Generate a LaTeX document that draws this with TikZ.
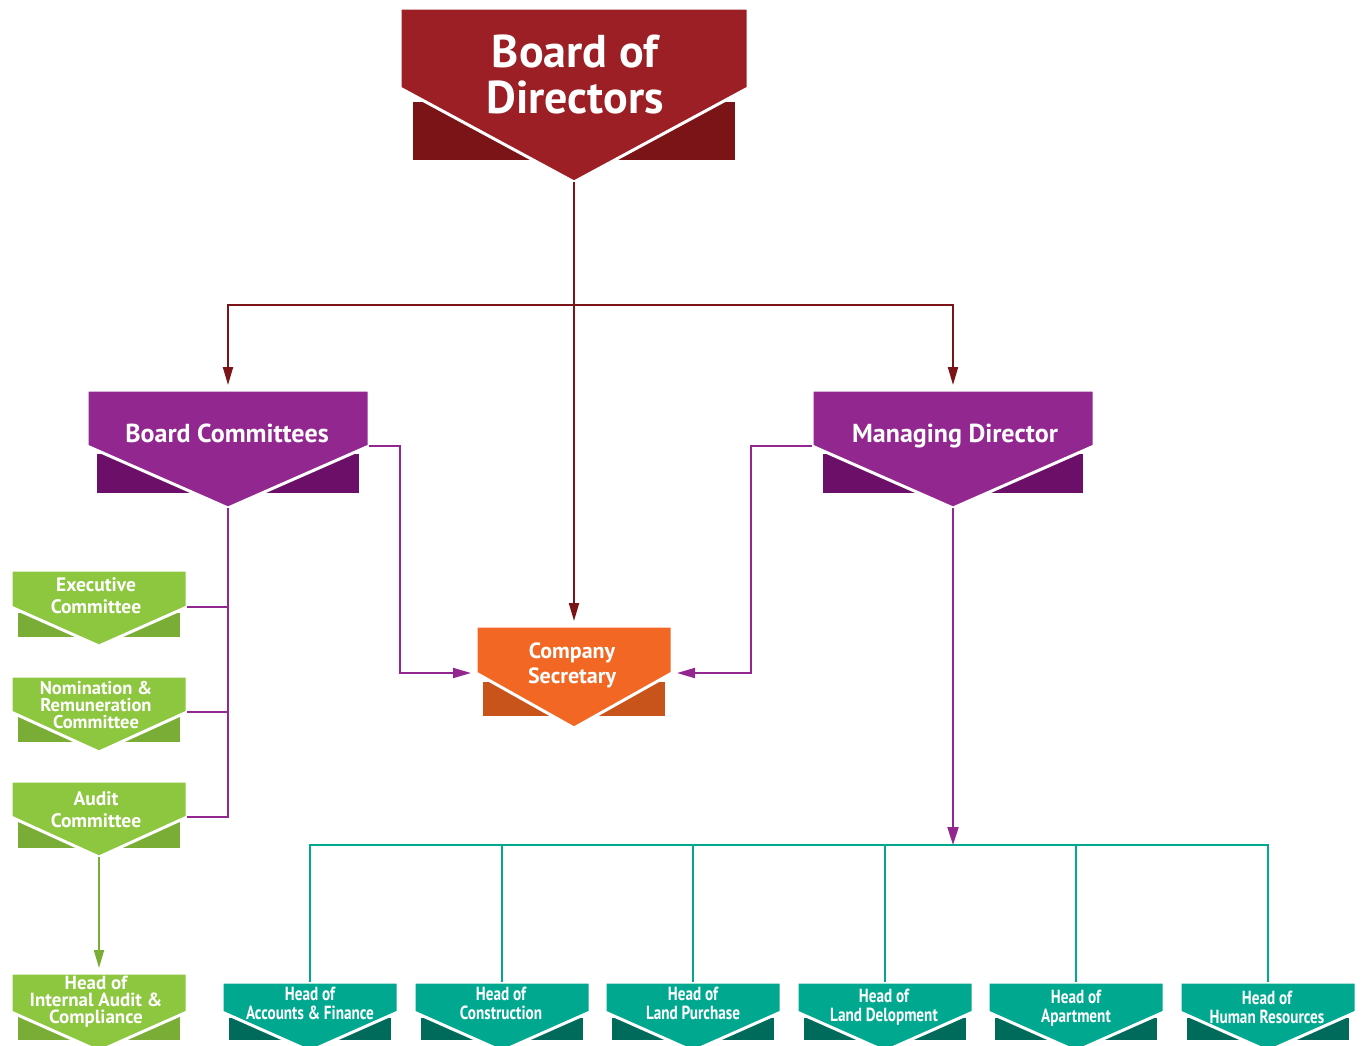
\documentclass[tikz,border=0pt]{standalone}
\usepackage{fontspec}
\setmainfont{PT Sans}
\newfontfamily\condfont[FakeStretch=0.8]{PT Sans}
\usetikzlibrary{arrows.meta}
\definecolor{redL}{HTML}{9B1F24}
\definecolor{redD}{HTML}{7B1416}
\definecolor{purL}{HTML}{92278F}
\definecolor{purD}{HTML}{6C0F68}
\definecolor{oraL}{HTML}{F26724}
\definecolor{oraD}{HTML}{C9541B}
\definecolor{grnL}{HTML}{8DC63F}
\definecolor{grnD}{HTML}{7AAD36}
\definecolor{teaL}{HTML}{00A88F}
\definecolor{teaD}{HTML}{006B5A}
\newcommand{\chev}[9]{%
  \fill[\cdark] ({#1+#6},#7) rectangle ({#2-#6},#8);
  \filldraw[fill=\clight, draw=white, line width=3pt, line join=miter] (#1,#3) -- (#2,#3) -- (#2,#4) -- ({(#1+#2)/2},#5) -- (#1,#4) -- cycle;
  \coordinate (#9-tip) at ({(#1+#2)/2},#5);
  \coordinate (#9-l) at (#1,#4);
  \coordinate (#9-r) at (#2,#4);
  \coordinate (#9-top) at ({(#1+#2)/2},#3);
}
\tikzset{
  lbl/.style={text=white, align=center, inner sep=0pt},
  tlbl/.style={lbl, font=\condfont\bfseries\fontsize{19}{19}\selectfont},
  arr/.style={-{Triangle[length=18pt,width=10pt]}, shorten >=5pt},
  redline/.style={draw=redD, line width=2pt},
  purline/.style={draw=purL, line width=2pt},
  tealine/.style={draw=teaL, line width=2pt},
  grnline/.style={draw=grnD, line width=2pt},
}
\begin{document}
\begin{tikzpicture}[x=1pt,y=-1pt]
\useasboundingbox (0,0) rectangle (1364,1045);
\clip (0,0) rectangle (1364,1045);
% Board of Directors
\def\clight{redL}\def\cdark{redD}
\chev{400}{748}{8}{88}{182}{13}{102}{160}{bodx}
\node[lbl, font=\fontsize{46}{46}\selectfont\bfseries] (bod) at (575,74) {Board of\\Directors};
% Board Committees
\def\clight{purL}\def\cdark{purD}
\chev{87}{369}{390}{446}{508}{10}{454}{493}{bcx}
\node[lbl, anchor=base, font=\fontsize{26}{30}\selectfont\bfseries] (bc) at (227,442) {Board Committees};
% Managing Director
\chev{812}{1094}{390}{446}{508}{11}{454}{493}{mdx}
\node[lbl, anchor=base, font=\fontsize{26}{30}\selectfont\bfseries] (md) at (955,442) {Managing Director};
% Company Secretary
\def\clight{oraL}\def\cdark{oraD}
\chev{476}{672}{626}{673}{728}{7}{682}{716}{csx}
\node[lbl, font=\fontsize{22}{25}\selectfont\bfseries] (cs) at (572,665) {Company\\Secretary};
% Green committees
\def\clight{grnL}\def\cdark{grnD}
\chev{11}{187}{570}{607}{646}{7}{613}{637}{exx}
\node[lbl, font=\fontsize{19.5}{22}\selectfont\bfseries] (ex) at (96,596) {Executive\\Committee};
\chev{11}{187}{676}{712}{752}{7}{717}{742}{nrx}
\node[lbl, font=\fontsize{18.5}{17}\selectfont\bfseries] (nr) at (96,705) {Nomination \&\\Remuneration\\Committee};
\chev{11}{187}{781}{817}{857}{7}{822}{848}{aux}
\node[lbl, font=\fontsize{19.5}{22}\selectfont\bfseries] (au) at (96,810) {Audit\\Committee};
\chev{11}{187}{973}{1012}{1051}{7}{1016}{1040}{iax}
\node[lbl, font=\fontsize{19}{17}\selectfont\bfseries] (ia) at (96,1002) {Head of\\Internal Audit \&\\Compliance};
% Teal heads
\def\clight{teaL}\def\cdark{teaD}
\chev{222}{398}{982}{1012}{1051}{7}{1018}{1040}{afx}
\node[tlbl] (af) at (310,1003) {Head of\\Accounts \& Finance};
\chev{414}{590}{982}{1012}{1051}{7}{1018}{1040}{cox}
\node[tlbl] (co) at (501,1003) {Head of\\Construction};
\chev{605}{781}{982}{1012}{1051}{7}{1018}{1040}{lpx}
\node[tlbl] (lp) at (693,1003) {Head of\\Land Purchase};
\chev{797}{973}{982}{1012}{1051}{7}{1018}{1040}{ldx}
\node[tlbl] (ld) at (884,1007) {Head of\\Land Delopment};
\chev{988}{1164}{982}{1012}{1051}{7}{1018}{1040}{apx}
\node[tlbl] (ap) at (1076,1008) {Head of\\Apartment};
\chev{1180}{1356}{982}{1012}{1051}{7}{1018}{1040}{hrx}
\node[tlbl] (hr) at (1267,1007) {Head of\\Human Resources};
% connectors
\coordinate (redbus) at (574,305);
\coordinate (tbus) at (953,845);
\draw[redline, arr] (bodx-tip) -- (csx-top);
\draw[redline, arr] (redbus) -| (bcx-top);
\draw[redline, arr] (redbus) -| (mdx-top);
\draw[purline, arr] (bcx-r) -- ++(31,0) |- (csx-l);
\draw[purline, arr] (mdx-l) -- ++(-61,0) |- (csx-r);
\draw[purline] (bcx-tip) |- (aux-r);
\draw[purline] (exx-r) -- (exx-r -| bcx-tip);
\draw[purline] (nrx-r) -- (nrx-r -| bcx-tip);
\draw[tealine] (afx-top) |- (tbus) -| (hrx-top);
\draw[tealine] (cox-top) -- (cox-top |- tbus);
\draw[tealine] (lpx-top) -- (lpx-top |- tbus);
\draw[tealine] (ldx-top) -- (ldx-top |- tbus);
\draw[tealine] (apx-top) -- (apx-top |- tbus);
\draw[purline, -{Triangle[length=18pt,width=11pt]}] (mdx-tip) -- (tbus);
\draw[grnline, arr] (aux-tip) -- (iax-top);
\end{tikzpicture}
\end{document}
